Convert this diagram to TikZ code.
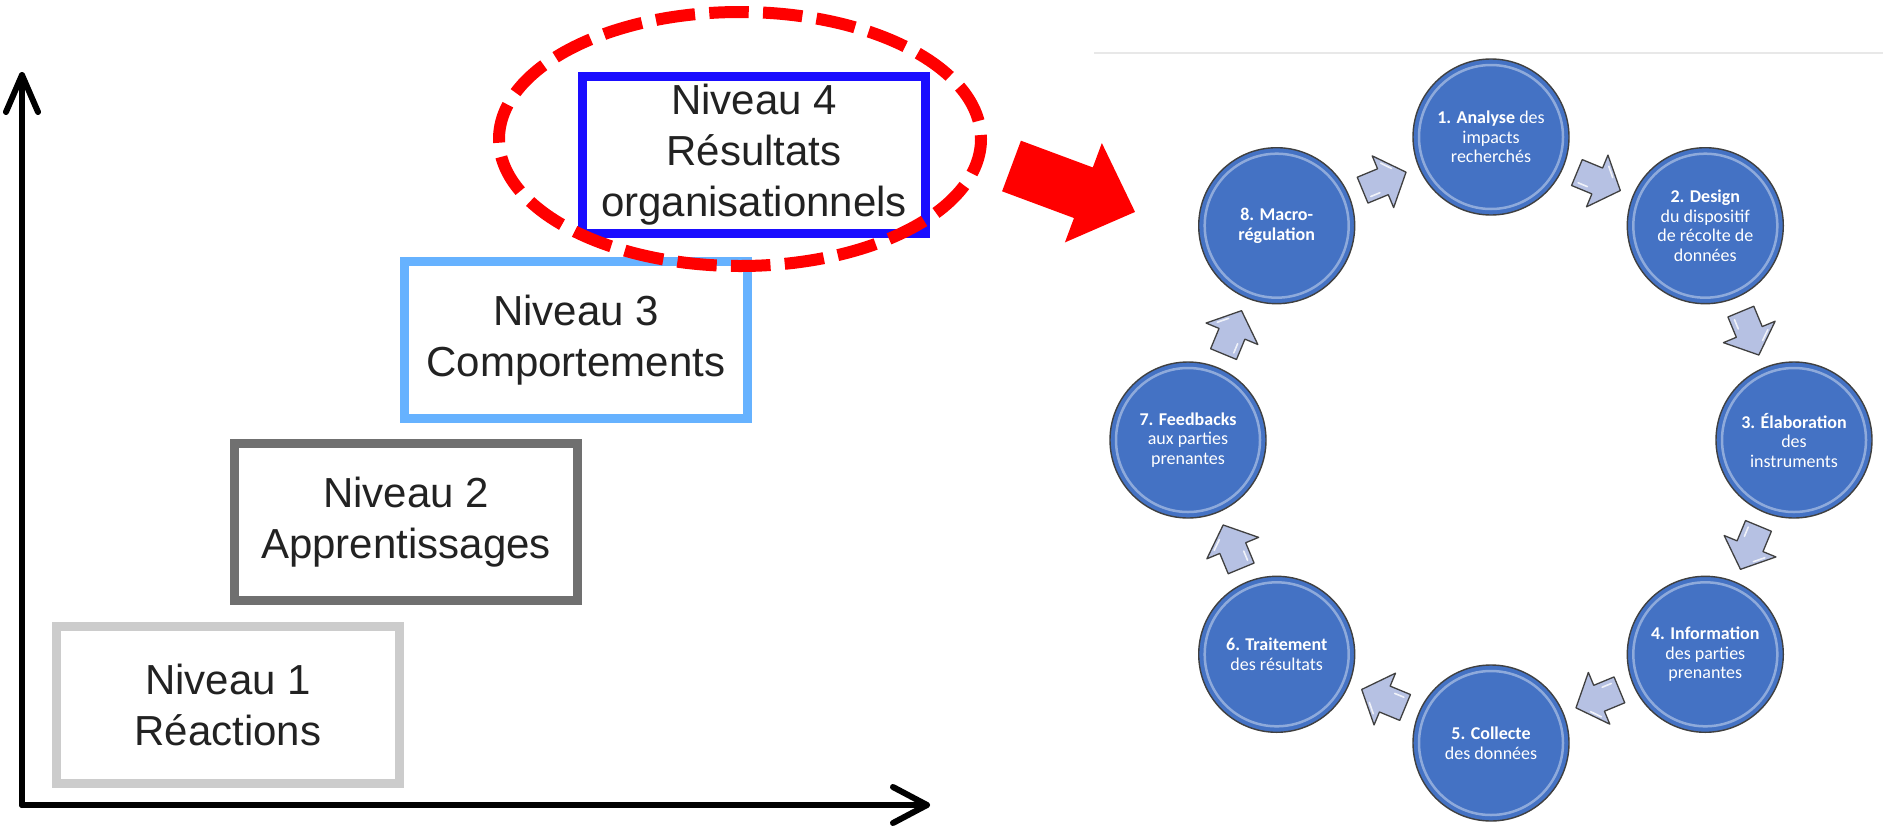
\documentclass[tikz,border=0pt]{standalone}
\usepackage{fontspec}
\setmainfont{Liberation Sans}
\newfontfamily\calib{Carlito}
\usetikzlibrary{shapes.geometric,calc}
\definecolor{lvlone}{HTML}{CCCCCC}
\definecolor{lvltwo}{HTML}{707070}
\definecolor{lvlthree}{HTML}{66B2FF}
\definecolor{lvlfour}{HTML}{1A0DFF}
\definecolor{ringblue}{HTML}{4472C4}
\definecolor{arrowfill}{HTML}{B6C1E3}
\definecolor{redmark}{HTML}{FF0000}
\definecolor{textgray}{HTML}{222222}
\newcommand\stagearrow[2]{%
  \begin{scope}[shift={#1}, rotate=#2]
  \filldraw[fill=arrowfill, draw=black!75, line width=1.3pt, line join=round]
    (-23,-14) -- (-1,-14) -- (-1,-28) -- (24,0) -- (-1,28) -- (-1,14) -- (-23,14) -- cycle;
  \draw[white, opacity=0.8, line width=1.6pt, line cap=round] (-18,9) -- (-8,9);
  \draw[white, opacity=0.8, line width=1.6pt, line cap=round] (4,-18) -- (12,-9);
  \end{scope}}
\begin{document}
\begin{tikzpicture}[x=1pt,y=-1pt,
  lvlbox/.style={draw, line width=9pt, minimum width=343pt, minimum height=157pt,
    inner sep=0pt, align=center, text=textgray, font=\fontsize{42}{51}\selectfont},
  stage/.style={circle, fill=ringblue, draw=black!75, line width=1.4pt, minimum size=156pt,
    inner sep=0pt, align=center, text=white, font=\calib\fontsize{18}{19.5}\selectfont},
  axisline/.style={line width=6pt, line cap=round, line join=round}]
\useasboundingbox (0,0) rectangle (1883,836);
\fill[white] (0,0) rectangle (1883,836);
% axes
\coordinate (origin) at (22,805);
\coordinate (ytip) at (22,75);
\coordinate (xtip) at (927,805);
\draw[axisline] (origin) -- (ytip);
\draw[axisline] (origin) -- (xtip);
\draw[axisline] (ytip) ++(-16,37) -- (ytip) -- ++(16,37);
\draw[axisline] (xtip) ++(-34,-18) -- (xtip) -- ++(-34,18);
% level boxes
\node[lvlbox, draw=lvlone] (n1) at (228,705) {Niveau 1\\Réactions};
\node[lvlbox, draw=lvltwo] (n2) at (406,522) {Niveau 2\\Apprentissages};
\node[lvlbox, draw=lvlthree] (n3) at (576,340) {Niveau 3\\Comportements};
\node[lvlbox, draw=lvlfour] (n4) at (754,155) {Niveau 4\\Résultats\\organisationnels};
% highlight ellipse
\node[ellipse, draw=redmark, line width=12pt, dash pattern=on 39.5pt off 14.3pt, dash phase=35.5pt,
  minimum width=482pt, minimum height=254pt, inner sep=0pt] (hl) at (740,139) {};
% red block arrow
\fill[redmark, shift={(1011.5,166)}, rotate=-20.4]
  (0,-27) -- (76.7,-27) -- (76.7,-53) -- (131.8,0) -- (76.7,53) -- (76.7,27) -- (0,27) -- cycle;
% thin frame line
\draw[line width=1.5pt, draw=black!9] (1094,53) -- (1883,53);
% cycle stages
\node[stage] (c1) at (1491,137) {{\bfseries 1. Analyse} des\\impacts\\recherchés};
\node[stage] (c2) at (1705.3,225.7) {{\bfseries 2. Design}\\du dispositif\\de récolte de\\données};
\node[stage] (c3) at (1794,440) {{\bfseries 3. Élaboration}\\des\\instruments};
\node[stage] (c4) at (1705.3,654.3) {{\bfseries 4. Information}\\des parties\\prenantes};
\node[stage] (c5) at (1491,743) {{\bfseries 5. Collecte}\\des données};
\node[stage] (c6) at (1276.7,654.3) {{\bfseries 6. Traitement}\\des résultats};
\node[stage] (c7) at (1188,440) {{\bfseries 7. Feedbacks}\\aux parties\\prenantes};
\node[stage] (c8) at (1276.7,225.7) {{\bfseries 8. Macro-}\\{\bfseries régulation}};
\foreach \c in {c1,c2,c3,c4,c5,c6,c7,c8}
  \draw[white, opacity=0.4, line width=2.5pt] (\c.center) circle (72);
% arrows between stages
\stagearrow{($(c1)!0.5!(c2)$)}{-22.5}
\stagearrow{($(c2)!0.5!(c3)$)}{-67.5}
\stagearrow{($(c3)!0.5!(c4)$)}{-112.5}
\stagearrow{($(c4)!0.5!(c5)$)}{-157.5}
\stagearrow{($(c5)!0.5!(c6)$)}{157.5}
\stagearrow{($(c6)!0.5!(c7)$)}{112.5}
\stagearrow{($(c7)!0.5!(c8)$)}{67.5}
\stagearrow{($(c8)!0.5!(c1)$)}{22.5}
\end{tikzpicture}
\end{document}
